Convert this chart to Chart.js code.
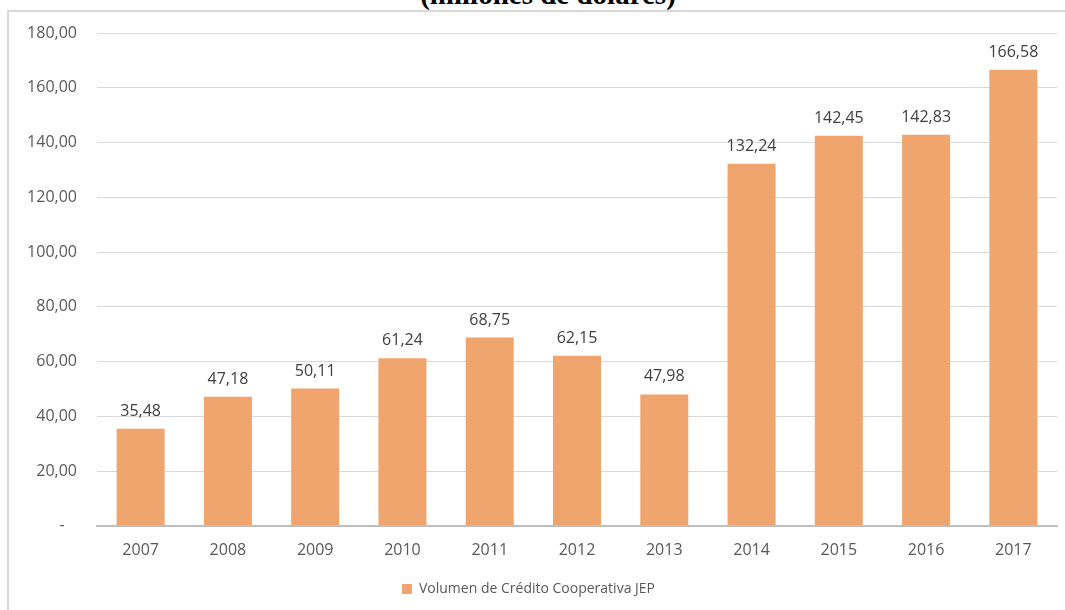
<!DOCTYPE html>
<html>
<head>
<meta charset="utf-8">
<script src="https://cdn.jsdelivr.net/npm/chart.js@4"></script>
<style>
  html, body { margin: 0; padding: 0; background: #fff; overflow: hidden; }
  #wrap { position: relative; width: 1065px; height: 610px; }
  #marco { position: absolute; left: 7px; top: 10px; width: 1070px; height: 620px;
           border-top: 2px solid #d9d9d9; border-left: 2px solid #d9d9d9; }
  #titulo { position: absolute; left: 548px; top: -20px; transform: translateX(-50%);
            font: bold 29px "Liberation Serif", "Times New Roman", serif; line-height: 29px;
            color: #000; white-space: nowrap; }
  #grafico { position: absolute; left: 0; top: 0; }
</style>
</head>
<body>
<div id="wrap">
  <div id="marco"></div>
  <div id="titulo">(millones de dólares)</div>
  <canvas id="grafico" width="1065" height="610"></canvas>
</div>
<script>
// Datos
const anios = ['2007', '2008', '2009', '2010', '2011', '2012', '2013', '2014', '2015', '2016', '2017'];
const volumen = [35.48, 47.18, 50.11, 61.24, 68.75, 62.15, 47.98, 132.24, 142.45, 142.83, 166.58];
const nombreSerie = 'Volumen de Crédito Cooperativa JEP';
const ejeY = { min: 0, max: 180, paso: 20 };

function formatoComa(v) {
    return v.toFixed(2).replace('.', ',');
}

// Etiquetas de valor encima de cada barra
const etiquetasBarras = {
    id: 'etiquetasBarras',
    afterDatasetsDraw(chart) {
        const ctx = chart.ctx;
        const meta = chart.getDatasetMeta(0);
        ctx.save();
        ctx.font = '16px "Open Sans"';
        ctx.fillStyle = '#404040';
        ctx.textAlign = 'center';
        ctx.textBaseline = 'alphabetic';
        meta.data.forEach((bar, i) => {
            ctx.fillText(formatoComa(volumen[i]), bar.x, bar.y - 13);
        });
        ctx.restore();
    }
};

const ctx = document.getElementById('grafico').getContext('2d');
new Chart(ctx, {
    type: 'bar',
    data: {
        labels: anios,
        datasets: [{
            label: nombreSerie,
            data: volumen,
            backgroundColor: 'rgb(240, 165, 110)',
            borderWidth: 0,
            categoryPercentage: 1,
            barPercentage: 0.55
        }]
    },
    options: {
        responsive: false,
        animation: false,
        layout: { padding: { left: 0, right: 8, top: 33, bottom: 4 } },
        plugins: {
            title: { display: false },
            tooltip: { enabled: false },
            legend: {
                position: 'bottom',
                labels: {
                    boxWidth: 10,
                    boxHeight: 10,
                    padding: 7,
                    color: '#595959',
                    font: { family: 'Open Sans', size: 14 }
                }
            }
        },
        scales: {
            x: {
                grid: { display: false, drawTicks: false },
                border: { display: true, color: '#bfbfbf', width: 2 },
                ticks: {
                    color: '#595959',
                    padding: 15,
                    font: { family: 'Open Sans', size: 16 }
                }
            },
            y: {
                min: ejeY.min,
                max: ejeY.max,
                grid: { color: '#d9d9d9', lineWidth: 1, drawTicks: false },
                border: { display: false },
                ticks: {
                    stepSize: ejeY.paso,
                    color: '#595959',
                    padding: 20,
                    font: { family: 'Open Sans', size: 16 },
                    callback: (v) => v === 0 ? '-   ' : formatoComa(v)
                },
                afterFit(scale) { scale.width = 97; }
            }
        }
    },
    plugins: [etiquetasBarras]
});
</script>
</body>
</html>
